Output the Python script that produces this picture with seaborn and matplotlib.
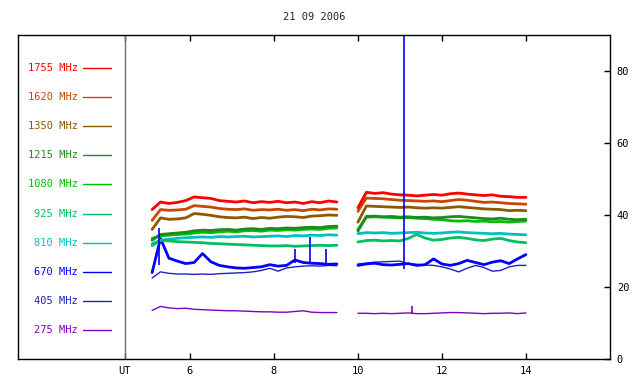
import numpy as np
import pandas as pd
import seaborn as sns
import matplotlib
matplotlib.use('Agg')
import matplotlib.pyplot as plt

### DATA
title = '21 09 2006'
freqs = ['1755', '1620', '1350', '1215', '1080', '925', '810', '670', '405', '275']
colours = ['#ff0000', '#c84800', '#8c5a00', '#208a20', '#00c000',
           '#00c060', '#00c0c0', '#0000ff', '#2020c0', '#8000c0']

# sample times, UT hours
t_seg1 = np.round(np.arange(5.1, 9.51, 0.2), 2)
t_seg2 = np.round(np.arange(10.0, 14.01, 0.2), 2)

seg1 = {
    '1755': [41.5, 43.6, 43.2, 43.5, 44.0, 45.0, 44.8, 44.6, 44.0, 43.8, 43.6, 43.9,
             43.4, 43.7, 43.5, 43.8, 43.4, 43.6, 43.2, 43.7, 43.4, 43.9, 43.6],
    '1620': [38.5, 41.5, 41.3, 41.4, 41.6, 42.6, 42.4, 42.2, 41.8, 41.6, 41.5, 41.7,
             41.3, 41.5, 41.4, 41.6, 41.3, 41.5, 41.2, 41.6, 41.4, 41.7, 41.6],
    '1350': [36.0, 39.2, 38.8, 38.9, 39.2, 40.4, 40.2, 39.9, 39.5, 39.3, 39.2, 39.4,
             39.0, 39.3, 39.1, 39.4, 39.6, 39.5, 39.3, 39.7, 39.8, 40.0, 39.9],
    '1215': [33.0, 34.6, 34.8, 35.0, 35.2, 35.6, 35.8, 35.7, 35.9, 36.0, 35.8, 36.1,
             36.2, 36.0, 36.3, 36.2, 36.4, 36.3, 36.5, 36.6, 36.5, 36.8, 36.9],
    '1080': [33.5, 34.2, 34.4, 34.6, 34.7, 35.0, 35.2, 35.1, 35.3, 35.5, 35.3, 35.6,
             35.7, 35.5, 35.8, 35.7, 35.9, 35.8, 36.0, 36.1, 36.0, 36.3, 36.4],
    '925':  [31.5, 33.0, 32.8, 32.6, 32.5, 32.4, 32.3, 32.1, 32.0, 31.9, 31.8, 31.7,
             31.6, 31.5, 31.4, 31.4, 31.5, 31.3, 31.4, 31.5, 31.6, 31.5, 31.6],
    '810':  [32.0, 33.0, 33.3, 33.5, 33.7, 33.8, 33.9, 33.8, 34.0, 33.9, 34.0, 34.1,
             33.9, 34.0, 34.1, 34.2, 34.0, 34.3, 34.2, 34.4, 34.3, 34.5, 34.4],
    '670':  [24.0, 33.5, 28.0, 27.2, 26.5, 26.8, 29.3, 27.0, 26.0, 25.6, 25.3, 25.2,
             25.4, 25.6, 26.2, 25.8, 26.0, 27.5, 26.8, 26.6, 26.5, 26.3, 26.4],
    '405':  [22.5, 24.2, 23.8, 23.6, 23.6, 23.5, 23.6, 23.5, 23.7, 23.8, 23.9, 24.0,
             24.2, 24.6, 25.2, 24.4, 25.3, 25.6, 25.8, 25.9, 25.8, 26.0, 25.9],
    '275':  [13.5, 14.6, 14.2, 14.0, 14.1, 13.8, 13.7, 13.6, 13.5, 13.4, 13.4, 13.3,
             13.2, 13.1, 13.1, 13.0, 13.0, 13.2, 13.4, 13.0, 12.9, 12.9, 12.9],
}
seg2 = {
    '1755': [42.0, 46.3, 46.0, 46.2, 45.8, 45.6, 45.5, 45.3, 45.5, 45.7, 45.5,
             45.9, 46.1, 45.8, 45.6, 45.4, 45.6, 45.2, 45.1, 44.9, 44.9],
    '1620': [41.0, 44.7, 44.6, 44.5, 44.3, 44.1, 44.0, 43.9, 43.8, 43.9, 43.7,
             44.0, 44.3, 44.1, 43.8, 43.5, 43.6, 43.4, 43.2, 43.1, 43.0],
    '1350': [38.0, 42.5, 42.4, 42.3, 42.2, 42.1, 42.2, 42.0, 41.9, 42.0, 41.9,
             42.1, 42.3, 42.1, 41.9, 41.7, 41.6, 41.5, 41.2, 41.3, 41.2],
    '1215': [35.5, 39.6, 39.7, 39.5, 39.6, 39.4, 39.5, 39.3, 39.4, 39.2, 39.3,
             39.5, 39.6, 39.4, 39.2, 39.0, 38.9, 39.1, 38.8, 38.7, 38.8],
    '1080': [36.0, 39.4, 39.5, 39.4, 39.3, 39.2, 39.3, 39.1, 39.0, 38.8, 38.7,
             38.4, 38.3, 38.4, 38.2, 38.3, 38.1, 38.2, 38.0, 38.2, 38.3],
    '925':  [32.5, 32.9, 33.0, 32.8, 32.9, 32.8, 33.5, 34.6, 33.6, 33.0, 33.2,
             33.6, 33.8, 33.5, 33.1, 32.9, 33.3, 33.5, 32.9, 32.5, 32.3],
    '810':  [34.8, 35.1, 35.0, 35.1, 34.9, 35.0, 35.1, 35.2, 35.0, 34.9, 35.0,
             35.2, 35.3, 35.1, 35.0, 34.9, 34.8, 34.9, 34.7, 34.6, 34.5],
    '670':  [26.0, 26.4, 26.6, 26.2, 26.1, 26.3, 26.5, 26.0, 26.2, 27.8, 26.4,
             26.0, 26.5, 27.4, 26.8, 26.2, 26.9, 27.3, 26.5, 27.8, 29.0],
    '405':  [26.4, 26.6, 26.9, 27.0, 27.1, 27.2, 26.4, 26.3, 26.1, 26.0, 25.6,
             25.0, 24.2, 25.2, 26.0, 25.4, 24.4, 24.6, 25.6, 26.0, 26.0],
    '275':  [12.7, 12.7, 12.6, 12.7, 12.6, 12.7, 12.8, 12.6, 12.6, 12.7, 12.8,
             12.9, 12.9, 12.8, 12.7, 12.6, 12.7, 12.7, 12.8, 12.6, 12.8],
}

# short bursts: (freq, time, base, top)
spike_freq = ['670', '670', '670', '670', '670', '275']
spike_t = [5.26, 8.5, 8.86, 9.23, 11.1, 11.28]
spike_base = [26.0, 26.6, 26.6, 26.3, 25.0, 12.7]
spike_top = [36.5, 30.5, 34.0, 30.5, 95.0, 14.8]

xtick_pos = [4.45, 6, 8, 10, 12, 14]
xtick_lab = ['UT', '6', '8', '10', '12', '14']
ytick_pos = [0, 20, 40, 60, 80]


### build long table
rows = []
for f in freqs:
    for t, v in zip(t_seg1, seg1[f]):
        rows.append((f, 1, t, v))
    for t, v in zip(t_seg2, seg2[f]):
        rows.append((f, 2, t, v))
df = pd.DataFrame(rows, columns=['freq', 'seg', 'ut', 'flux'])
palette = dict(zip(freqs, colours))


### PLOT
sns.set_style('white')
plt.rcParams['font.family'] = ['DejaVu Sans Mono']
plt.rcParams['font.size'] = 7.5

fig = plt.figure(figsize=(6.4, 3.84), dpi=100)
ax = fig.add_axes([0.028, 0.0651, 0.925, 0.8438])

for f in freqs[::-1]:
    lw = 1.0 if f in ('405', '275') else 2.0
    sns.lineplot(data=df[df['freq'] == f], x='ut', y='flux', units='seg',
                 estimator=None, color=palette[f], lw=lw, ax=ax, legend=False)

for f, t, b, top in zip(spike_freq, spike_t, spike_base, spike_top):
    ax.vlines(t, b, top, color=palette[f], lw=1.2)

# legend column on the left
ax.axvline(4.45, color='#707070', lw=1)
for i, f in enumerate(freqs):
    y = 80.8 - 8.08 * i
    ax.text(3.33, y, f + ' MHz', color=palette[f], ha='right', va='center')
    ax.plot([3.45, 4.12], [y, y], color=palette[f], lw=1)

ax.set_xlim(1.905, 16.0)
ax.set_ylim(0, 90)
ax.set_xticks(xtick_pos)
ax.set_xticklabels(xtick_lab)
ax.set_yticks(ytick_pos)
ax.yaxis.tick_right()
ax.tick_params(axis='both', direction='in', length=4, width=1, colors='black',
               labelsize=7.5, pad=5)
ax.tick_params(axis='x', top=True, bottom=True)
ax.set_xlabel('')
ax.set_ylabel('')
for s in ax.spines.values():
    s.set_color('black')
    s.set_linewidth(1)

fig.text(0.491, 0.955, title, ha='center', va='center', fontsize=7.5)

plt.savefig('out.png', dpi=100)
